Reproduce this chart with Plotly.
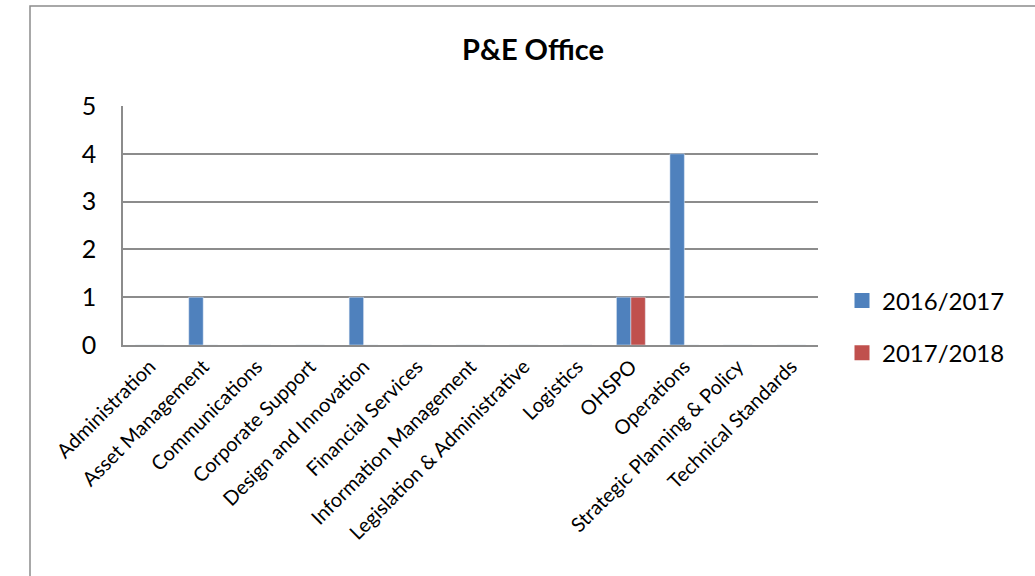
import plotly.graph_objects as go

categories = ["Administration", "Asset Management", "Communications", "Corporate Support",
              "Design and Innovation", "Financial Services", "Information Management",
              "Legislation & Administrative", "Logistics", "OHSPO", "Operations",
              "Strategic Planning & Policy", "Technical Standards"]
s2016 = [0, 1, 0, 0, 1, 0, 0, 0, 0, 1, 4, 0, 0]
s2017 = [0, 0, 0, 0, 0, 0, 0, 0, 0, 1, 0, 0, 0]
series_names = ["2016/2017", "2017/2018"]
series_colors = ["#4F81BD", "#C0504D"]

font = "Lato, 'Open Sans', sans-serif"
W, H = 1035, 576
L, R, T, B = 123, 818, 106, 345
pw, ph = R - L, B - T

fig = go.Figure()
for vals, name, col in zip([s2016, s2017], series_names, series_colors):
    fig.add_trace(go.Bar(x=categories, y=vals, name=name, marker_color=col, showlegend=False))
for i, (name, col) in enumerate(zip(series_names, series_colors)):
    fig.add_trace(go.Scatter(x=[None], y=[None], mode="markers", name=name,
                             marker=dict(symbol="square", size=15, color=col),
                             legendgroup=f"g{i}", hoverinfo="skip"))

fig.update_layout(
    width=W, height=H,
    margin=dict(l=L, r=W - R, t=T, b=H - B, autoexpand=False),
    paper_bgcolor="white", plot_bgcolor="white",
    barmode="group", bargap=0.46, bargroupgap=0,
    title=dict(text="<b>P&E Office</b>", x=533 / W, xanchor="center",
               y=1 - 50 / H, yanchor="middle", yref="container",
               font=dict(family=font, size=29, color="black")),
    font=dict(family=font, color="black"),
    legend=dict(x=(842 - L) / pw, xanchor="left", y=(B - 327) / ph, yanchor="middle",
                font=dict(size=24, family=font), tracegroupgap=18,
                itemwidth=30, bgcolor="rgba(0,0,0,0)"),
    showlegend=True,
)
fig.update_yaxes(range=[0, 5], dtick=1, showgrid=True, gridcolor="#8C8C8C", gridwidth=1.5,
                 showline=True, linecolor="#8C8C8C", linewidth=1.5, zeroline=False,
                 ticks="", tickfont=dict(size=25, family=font), ticklabelstandoff=20)
fig.update_xaxes(showline=True, linecolor="#8C8C8C", linewidth=2, tickangle=-45,
                 ticks="", tickfont=dict(size=20, family=font), showgrid=False)

fig.add_shape(type="rect", xref="paper", yref="paper",
              x0=(30 - L) / pw, x1=(1060 - L) / pw,
              y0=(B - 600) / ph, y1=(B - 6) / ph,
              line=dict(color="#8C8C8C", width=1.5), fillcolor="rgba(0,0,0,0)", layer="below")

fig.write_html("out.html", config={"displayModeBar": False},
               post_script="document.body.style.margin='0';")
